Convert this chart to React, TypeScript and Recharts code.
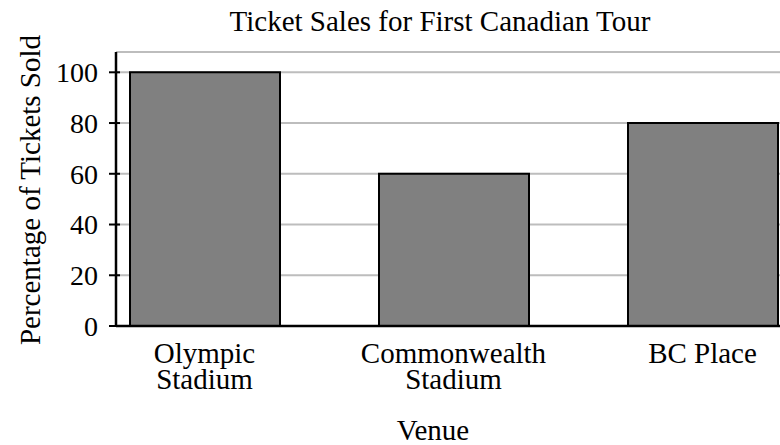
import React from "react";
import { BarChart, Bar, XAxis, YAxis, CartesianGrid } from "recharts";

const venues = ["Olympic\nStadium", "Commonwealth\nStadium", "BC Place"];
const percentSold = [100, 60, 80];
const yTicks = [0, 20, 40, 60, 80, 100];

const data = venues.map((v, i) => ({ venue: v, value: percentSold[i] }));

const FONT = "'Liberation Serif', 'Times New Roman', serif";
const FS = 29;

const XTick = (props: any) => {
  const { x, y, payload } = props;
  const lines = String(payload.value).split("\n");
  return (
    <g>
      {lines.map((l: string, i: number) => (
        <text
          key={i}
          x={x}
          y={y + 37 + i * 26}
          textAnchor="middle"
          fontFamily={FONT}
          fontSize={FS}
          fill="#000"
        >
          {l}
        </text>
      ))}
    </g>
  );
};

const YTick = (props: any) => {
  const { x, y, payload } = props;
  return (
    <g>
      <line x1={x + 11} x2={x + 22} y1={y} y2={y} stroke="#000" strokeWidth={2} />
      <text x={x} y={y} dy="0.35em" textAnchor="end" fontFamily={FONT} fontSize={FS - 1} fill="#000">
        {payload.value}
      </text>
    </g>
  );
};

export default function App() {
  return (
    <div style={{ position: "absolute", left: 0, top: 0, width: 780, height: 445, background: "#fff", overflow: "hidden" }}>
      <BarChart
        width={780}
        height={445}
        data={data}
        margin={{ top: 52, right: 0, bottom: 0, left: 0 }}
      >
        <CartesianGrid vertical={false} stroke="#bdbdbd" strokeWidth={2} />
        <XAxis
          dataKey="venue"
          height={119}
          padding={{ left: -36, right: -47 }}
          axisLine={{ stroke: "#000", strokeWidth: 2.5 }}
          tickLine={false}
          tickSize={0}
          tickMargin={0}
          tick={<XTick />}
          interval={0}
        />
        <YAxis
          width={116}
          domain={[0, 108]}
          ticks={yTicks}
          allowDataOverflow
          axisLine={{ stroke: "#000", strokeWidth: 2.5 }}
          tickLine={false}
          tickSize={7}
          tickMargin={11}
          tick={<YTick />}
        />
        <Bar
          dataKey="value"
          fill="#808080"
          stroke="#000"
          strokeWidth={2}
          barSize={150}
          isAnimationActive={false}
        />
      </BarChart>
      <svg
        width={780}
        height={445}
        style={{ position: "absolute", left: 0, top: 0, pointerEvents: "none" }}
      >
        <text x={440} y={31} textAnchor="middle" fontFamily={FONT} fontSize={FS} fill="#000">
          Ticket Sales for First Canadian Tour
        </text>
        <text x={433} y={440} textAnchor="middle" fontFamily={FONT} fontSize={FS} fill="#000">
          Venue
        </text>
        <text
          x={40}
          y={190}
          textAnchor="middle"
          fontFamily={FONT}
          fontSize={FS}
          fill="#000"
          transform="rotate(-90, 40, 190)"
        >
          Percentage of Tickets Sold
        </text>
      </svg>
    </div>
  );
}
